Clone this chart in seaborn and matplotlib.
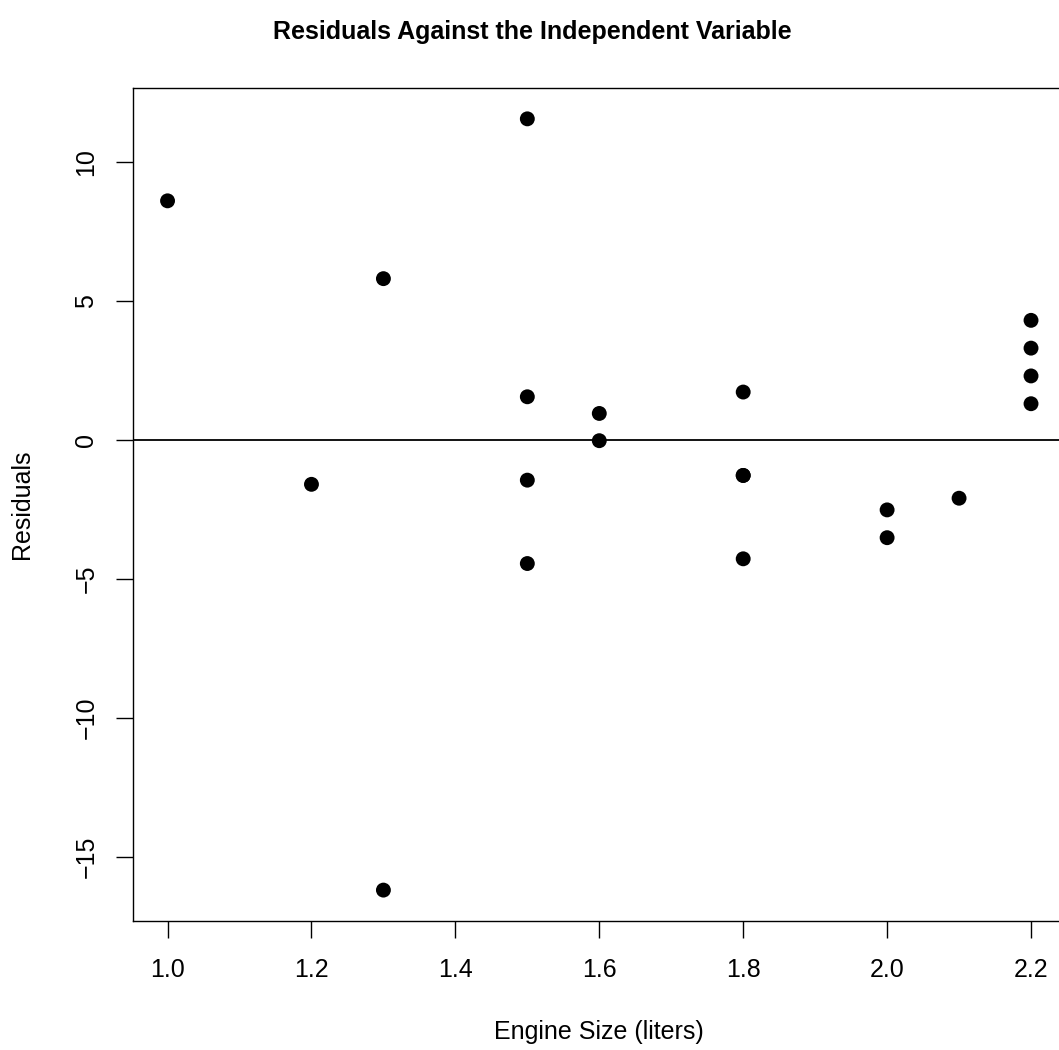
import matplotlib
matplotlib.use("Agg")
import matplotlib.pyplot as plt
import seaborn as sns
import pandas as pd

# engine size (liters) and residuals
engine_size = [1.0, 1.2, 1.3, 1.3, 1.5, 1.5, 1.5, 1.5, 1.6, 1.6,
               1.8, 1.8, 1.8, 1.8, 2.0, 2.0, 2.1, 2.2, 2.2, 2.2, 2.2]
residuals = [8.6, -1.6, 5.8, -16.2, 11.55, 1.55, -1.45, -4.45, 0.95, -0.03,
             1.72, -1.28, -1.28, -4.28, -2.52, -3.52, -2.1, 4.3, 3.3, 2.3, 1.3]
x_ticks = [1.0, 1.2, 1.4, 1.6, 1.8, 2.0, 2.2]
y_ticks = [-15, -10, -5, 0, 5, 10]

df = pd.DataFrame({"engine": engine_size, "resid": residuals})

sns.set_style("white")
plt.rcParams["font.family"] = ["Liberation Sans", "DejaVu Sans"]
plt.rcParams.update({"text.color": "black", "axes.labelcolor": "black",
                     "xtick.color": "black", "ytick.color": "black"})

fig = plt.figure(figsize=(10.59, 10.5), dpi=100)
ax = fig.add_axes([0.1256, 0.1229, 0.8806, 0.7933])

sns.scatterplot(data=df, x="engine", y="resid", color="black", s=115,
                edgecolor="none", ax=ax)
ax.axhline(0, color="black", lw=1.3)

ax.set_xlim(0.952, 2.248)
ax.set_ylim(-17.31, 12.66)
ax.set_xticks(x_ticks)
ax.set_xticklabels([f"{v:.1f}" for v in x_ticks])
ax.set_yticks(y_ticks)
ax.set_yticklabels([str(v).replace("-", "\u2212") for v in y_ticks],
                   rotation=90, va="center")
ax.tick_params(axis="both", direction="out", length=12, width=1.0,
               labelsize=18, bottom=True, left=True)
ax.tick_params(axis="x", pad=15)
ax.tick_params(axis="y", pad=13)
for sp in ax.spines.values():
    sp.set_color("black")
    sp.set_linewidth(1.0)

ax.set_xlabel("Engine Size (liters)", fontsize=18, labelpad=27)
ax.set_ylabel("Residuals", fontsize=18, labelpad=29)
fig.suptitle("Residuals Against the Independent Variable", fontsize=18,
             fontweight="bold", x=0.503, y=0.981)

fig.savefig("out.png", dpi=100)
